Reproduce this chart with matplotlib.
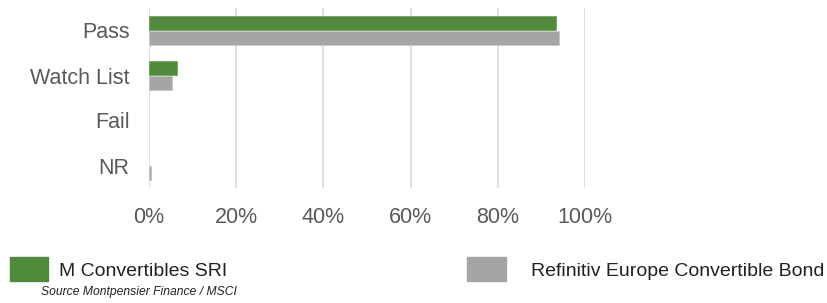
import matplotlib
matplotlib.use("Agg")
import matplotlib.pyplot as plt
from matplotlib.patches import Rectangle
import numpy as np

categories = ["Pass", "Watch List", "Fail", "NR"]
m_convertibles = [93.3, 6.4, 0.0, 0.0]
refinitiv = [94.0, 5.3, 0.0, 0.4]
series_names = ["M Convertibles SRI", "Refinitiv Europe Convertible Bond"]
xticks = [0, 20, 40, 60, 80, 100]
source = "Source Montpensier Finance / MSCI"

plt.rcParams['font.family'] = ['Liberation Sans', 'DejaVu Sans']
green = '#508A3B'
gray = '#A5A5A5'
txt = '#595959'

W, H = 827, 303
fig = plt.figure(figsize=(W/100, H/100), dpi=100)
ax = fig.add_axes([149/W, 1-188/H, (585-149)/W, 180/H])

y = np.arange(len(categories))
h = 0.333
ax.barh(y - h/2, m_convertibles, height=h, color=green,
        edgecolor=['#6FA55A' if v > 0 else 'none' for v in m_convertibles], linewidth=0.6, zorder=3)
ax.barh(y + h/2, refinitiv, height=h, color=gray,
        edgecolor=['#C8C8C8' if v > 0 else 'none' for v in refinitiv], linewidth=0.6, zorder=3)

ax.set_ylim(3.5, -0.5)
ax.set_xlim(0, 100)
ax.set_xticks(xticks)
ax.set_xticklabels([f"{v}%" for v in xticks])
ax.set_yticks(y)
ax.set_yticklabels(categories)
ax.tick_params(axis='both', length=0, labelsize=15.5, colors=txt)
ax.tick_params(axis='x', pad=14)
ax.tick_params(axis='y', pad=14)
ax.grid(axis='x', color='#D9D9D9', linewidth=1.2, zorder=0)
for s in ax.spines.values():
    s.set_visible(False)

# legend
fig.patches.append(Rectangle((10/W, 1-281/H), 38/W, 24/H, transform=fig.transFigure, color=green))
fig.text(59/W, 1-271/H, series_names[0], fontsize=14, color='#222222', va='center')
fig.patches.append(Rectangle((467/W, 1-281/H), 39/W, 24/H, transform=fig.transFigure, color=gray))
fig.text(531/W, 1-271/H, series_names[1], fontsize=14, color='#222222', va='center')
fig.text(41/W, 1-292.5/H, source, fontsize=8.7, style='italic', color='#222222', va='center')

fig.savefig("out.png", dpi=100)
